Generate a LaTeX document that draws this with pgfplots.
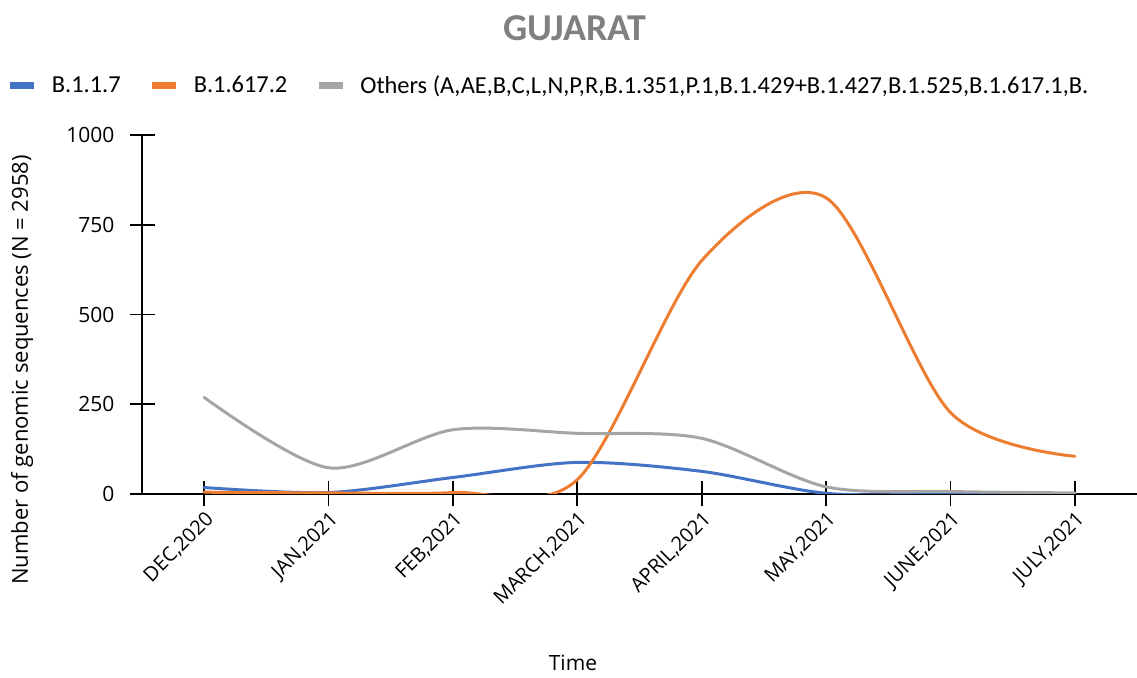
\documentclass[border=0pt]{standalone}
\usepackage{pgfplots}
\pgfplotsset{compat=1.18}
\usepackage{fontspec}
\setmainfont{Open Sans}
\newfontfamily\calfont{Carlito}
\definecolor{cblue}{HTML}{4472C4}
\definecolor{corange}{HTML}{ED7D31}
\definecolor{cgray}{HTML}{A5A5A5}
\definecolor{ctitle}{HTML}{808080}

\begin{document}
\begin{tikzpicture}[x=1pt,y=1pt]
\path[use as bounding box] (0,0) rectangle (568.5,339);
\begin{axis}[
  at={(102.1pt,92pt)}, anchor=origin,
  scale only axis, width=497.5pt, height=179.5pt,
  xmin=-0.5, xmax=7.5, ymin=0, ymax=1000,
  axis x line*=bottom, axis y line*=left,
  axis line style={black, line width=0.9pt},
  xtick={0,...,7},
  xticklabels={{DEC,2020},{JAN,2021},{FEB,2021},{MARCH,2021},{APRIL,2021},{MAY,2021},{JUNE,2021},{JULY,2021}},
  ytick={0,250,500,750,1000},
  tick align=center, major tick length=12.5pt,
  tick style={black, line width=0.9pt},
  /pgf/number format/assume math mode=true,
  /pgf/number format/1000 sep={},
  scaled y ticks=false,
  xticklabel style={rotate=45, anchor=north east, font=\fontsize{10}{12}\selectfont, inner sep=1pt},
  yticklabel style={font=\fontsize{10.5}{12}\selectfont, xshift=-4pt},
  legend style={at={(-0.1422,1.1365)}, anchor=west, draw=none, fill=none,
    font=\calfont\fontsize{12.2}{14}\selectfont, legend columns=3,
    /tikz/every odd column/.append style={column sep=5pt},
    /tikz/every even column/.append style={column sep=12pt}},
  legend image code/.code={\draw[line width=3.5pt, line cap=butt] (0pt,0pt) -- (12pt,0pt);},
  every axis plot/.append style={line width=1.5pt, smooth, tension=0.5, line cap=round, no marks},
]
\addplot[cblue] coordinates {(0,18) (1,4) (2,46) (3,88) (4,63) (5,2) (6,0) (7,0)};
\addlegendentry{B.1.1.7}
\addplot[corange] coordinates {(0,5) (1,3) (2,4) (3,40) (4,650) (5,825) (6,227) (7,105)};
\addlegendentry{B.1.617.2}
\addplot[cgray] coordinates {(0,269) (1,73) (2,179) (3,169) (4,155) (5,20) (6,7) (7,3)};
\addlegendentry{Others (A,AE,B,C,L,N,P,R,B.1.351,P.1,B.1.429+B.1.427,B.1.525,B.1.617.1,B.}
\end{axis}
\node[font=\calfont\bfseries\fontsize{19}{22}\selectfont, text=ctitle] at (287.5,325) {GUJARAT};
\node[rotate=90, font=\fontsize{11}{12}\selectfont] at (11,154) {Number of genomic sequences (N = 2958)};
\node[font=\fontsize{10.5}{12}\selectfont] at (286.5,7.5) {Time};
\end{tikzpicture}
\end{document}
